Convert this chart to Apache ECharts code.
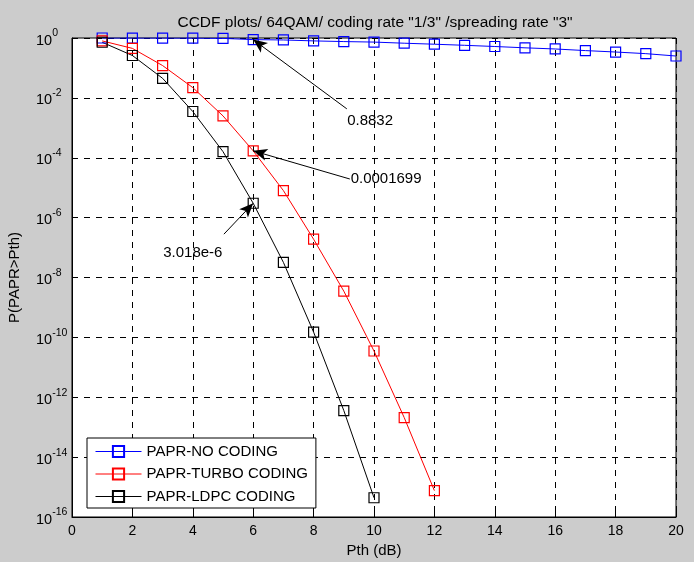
<!DOCTYPE html>
<html>
<head>
<meta charset="utf-8">
<script src="https://cdn.jsdelivr.net/npm/echarts@6/dist/echarts.min.js"></script>
<style>
  html, body { margin: 0; padding: 0; background: #cccccc; }
  #chart { width: 694px; height: 562px; }
</style>
</head>
<body>
<div id="chart"></div>
<script>
  // Pth (dB) steps for each curve
  var pthNoCoding = [1, 2, 3, 4, 5, 6, 7, 8, 9, 10, 11, 12, 13, 14, 15, 16, 17, 18, 19, 20]
  var pthTurbo = [1, 2, 3, 4, 5, 6, 7, 8, 9, 10, 11, 12]
  var pthLdpc = [1, 2, 3, 4, 5, 6, 7, 8, 9, 10]

  // P(PAPR>Pth)
  var noCoding = [0.999, 0.998, 0.996, 0.99, 0.97, 0.8832, 0.86, 0.8, 0.76, 0.73,
    0.67, 0.62, 0.57, 0.52, 0.47, 0.43, 0.38, 0.34, 0.3, 0.25]
  var turboCoding = [0.8, 0.45, 0.12, 0.022, 2.5e-3, 1.699e-4, 8e-6, 1.9e-7, 3.5e-9,
    3.5e-11, 2.1e-13, 7.6e-16]
  var ldpcCoding = [0.72, 0.26, 0.045, 3.5e-3, 1.6e-4, 3.018e-6, 3.2e-8, 1.5e-10,
    3.6e-13, 4.4e-16]

  var xTicks = [0, 2, 4, 6, 8, 10, 12, 14, 16, 18, 20]

  var titleText = 'CCDF plots/ 64QAM/ coding rate "1/3" /spreading rate "3"'
  var seriesNames = ['PAPR-NO CODING', 'PAPR-TURBO CODING', 'PAPR-LDPC CODING']

  // data tips: text, point it marks, tail of the arrow, text centre (data coords)
  var notes = [
    { text: '0.8832', at: [6, noCoding[5]], tail: [9.1, 4.3e-3], label: [9.87, 1.7e-3] },
    { text: '0.0001699', at: [6, turboCoding[5]], tail: [9.2, 1.95e-5], label: [10.4, 1.95e-5] },
    { text: '3.018e-6', at: [6, ldpcCoding[5]], tail: [5.03, 2.8e-7], label: [4.0, 6.6e-8] }
  ]

  var font = 'Liberation Sans, Arial, sans-serif'

  function pairs(xs, ys) {
    return xs.map(function (x, i) { return [x, ys[i]] })
  }

  function lineSeries(name, color, xs, ys) {
    return {
      name: name,
      type: 'line',
      data: pairs(xs, ys),
      symbol: 'rect',
      symbolSize: 10,
      lineStyle: { color: color, width: 1 },
      itemStyle: { color: 'rgba(255,255,255,0)', borderColor: color, borderWidth: 1.2 },
      z: 3
    }
  }

  var chart = echarts.init(document.getElementById('chart'), null, { renderer: 'canvas' })

  var series = [
    lineSeries(seriesNames[0], '#0000ff', pthNoCoding, noCoding),
    lineSeries(seriesNames[1], '#ff0000', pthTurbo, turboCoding),
    lineSeries(seriesNames[2], '#000000', pthLdpc, ldpcCoding)
  ]

  // arrows + texts for the data tips
  series.push({
    type: 'line',
    data: [],
    silent: true,
    markLine: {
      silent: true,
      symbol: ['none', 'arrow'],
      symbolSize: [9, 14],
      label: { show: false },
      lineStyle: { color: '#000', width: 1, type: 'solid' },
      data: notes.map(function (n) {
        return [{ coord: n.tail }, { coord: n.at }]
      })
    },
    markPoint: {
      silent: true,
      symbol: 'circle',
      symbolSize: 0,
      label: {
        show: true,
        position: 'inside',
        color: '#000',
        fontFamily: font,
        fontSize: 15
      },
      data: notes.map(function (n) {
        return { coord: n.label, value: n.text, label: { formatter: n.text } }
      })
    }
  })

  chart.setOption({
    animation: false,
    backgroundColor: '#cccccc',
    title: {
      text: titleText,
      left: 370,
      textAlign: 'center',
      top: 10,
      textStyle: { color: '#000', fontSize: 15.5, fontWeight: 'normal', fontFamily: font }
    },
    legend: {
      data: seriesNames,
      orient: 'vertical',
      left: 87,
      top: 438,
      backgroundColor: '#fff',
      borderColor: '#000',
      borderWidth: 1,
      borderRadius: 0,
      padding: [6, 8, 4, 8],
      itemWidth: 46,
      itemHeight: 14,
      itemGap: 7.5,
      lineStyle: { width: 1 },
      textStyle: { color: '#000', fontSize: 15, fontFamily: font }
    },
    grid: {
      left: 72,
      right: 18,
      top: 38,
      bottom: 45,
      outerBoundsMode: 'none',
      containLabel: false,
      show: true,
      backgroundColor: '#fff',
      borderColor: '#000',
      borderWidth: 1
    },
    xAxis: {
      type: 'value',
      min: 0,
      max: 20,
      interval: 2,
      name: 'Pth (dB)',
      nameLocation: 'middle',
      nameGap: 24,
      nameTextStyle: { color: '#000', fontSize: 15, fontFamily: font },
      axisLine: { show: true, lineStyle: { color: '#000' } },
      axisTick: { show: true, inside: true, length: 5, lineStyle: { color: '#000' } },
      axisLabel: {
        color: '#000', fontSize: 14, fontFamily: font, margin: 7,
        formatter: function (v) { return xTicks.indexOf(v) >= 0 ? String(v) : '' }
      },
      splitLine: { show: true, lineStyle: { color: '#000', type: [6, 6], width: 1 } }
    },
    yAxis: {
      type: 'log',
      logBase: 10,
      min: 1e-16,
      max: 1,
      interval: 2,
      name: 'P(PAPR>Pth)',
      nameLocation: 'middle',
      nameGap: 50,
      nameTextStyle: { color: '#000', fontSize: 15, fontFamily: font },
      axisLine: { show: true, lineStyle: { color: '#000' } },
      axisTick: { show: true, inside: true, length: 5, lineStyle: { color: '#000' } },
      axisLabel: {
        margin: 36,
        align: 'left',
        formatter: function (v) {
          var e = Math.round(Math.log10(v))
          return '{b|10}{e|' + e + '}'
        },
        rich: {
          b: { color: '#000', fontSize: 14.5, fontFamily: font, lineHeight: 20, verticalAlign: 'bottom' },
          e: { color: '#000', fontSize: 10.5, fontFamily: font, lineHeight: 20, verticalAlign: 'top', padding: [0, 0, 9, 0] }
        }
      },
      splitLine: { show: true, lineStyle: { color: '#000', type: [6, 6], width: 1 } }
    },
    series: series
  })
</script>
</body>
</html>
